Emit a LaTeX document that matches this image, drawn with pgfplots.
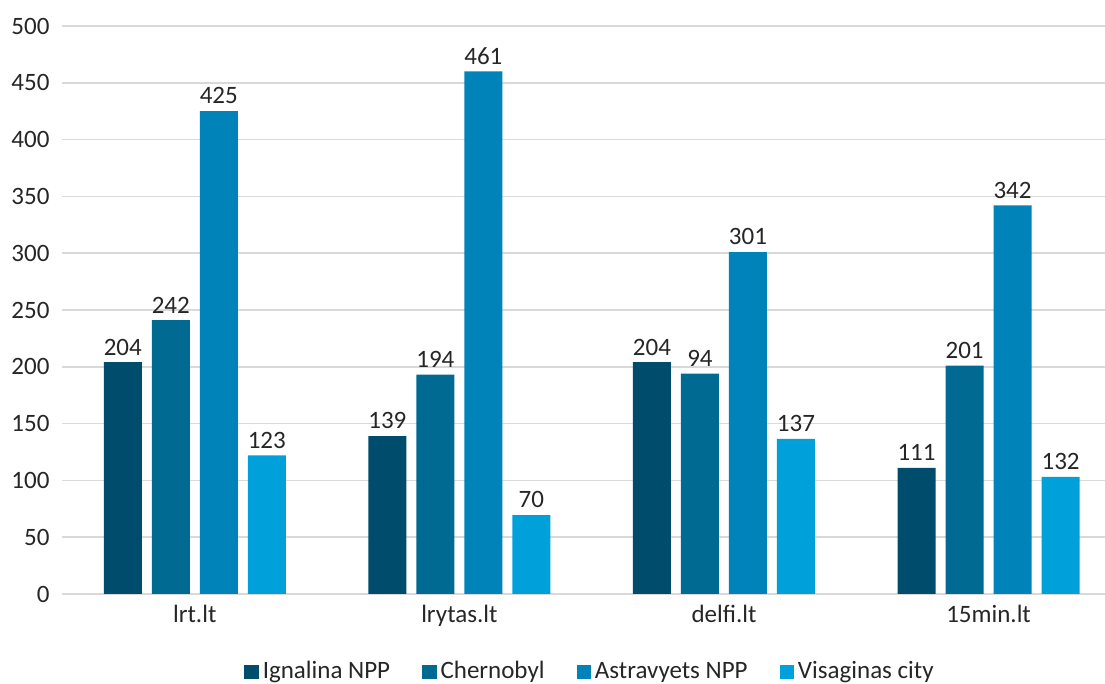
\documentclass[border=0pt]{standalone}
\usepackage{pgfplots}
\pgfplotsset{compat=1.18}
\usepackage{fontspec}
\setmainfont{Carlito}
\definecolor{c1}{HTML}{004C6D}
\definecolor{c2}{HTML}{006A93}
\definecolor{c3}{HTML}{0083B8}
\definecolor{c4}{HTML}{00A0DA}
\definecolor{txt}{HTML}{262626}
\definecolor{gridc}{HTML}{D9D9D9}
\begin{document}
\begin{tikzpicture}
\useasboundingbox (0,0) rectangle (552.5pt,342pt);
\begin{axis}[
  at={(31.25pt,45pt)}, anchor=south west,
  scale only axis, width=521.25pt, height=284pt,
  xmin=-0.5, xmax=3.44, ymin=0, ymax=500,
  ybar=5pt, bar width=19pt,
  xtick={0,1,2,3}, xticklabels={lrt.lt, lrytas.lt, delfi.lt, 15min.lt},
  ytick={0,50,...,500},
  major tick length=0pt,
  axis x line*=bottom, axis y line*=left,
  x axis line style={draw=gridc, line width=0.8pt},
  y axis line style={draw=none},
  ymajorgrids, grid style={gridc, line width=0.8pt},
  tick label style={font=\fontsize{12.5}{14}\selectfont, text=txt},
  /pgf/number format/assume math mode=true,
  yticklabel style={xshift=-3pt},
  xticklabel style={yshift=-2pt},
  point meta=explicit symbolic,
  nodes near coords,
  every node near coord/.append style={font=\fontsize{12.5}{14}\selectfont, text=txt},
  legend columns=4,
  legend style={at={(0.507,-0.137)}, anchor=center, draw=none, fill=none,
    font=\fontsize{12.5}{14}\selectfont, text=txt,
    /tikz/every even column/.append style={column sep=14pt}},
  legend image code/.code={\fill[#1] (0pt,-3.6pt) rectangle (7.2pt,3.6pt);},
]
\addplot[fill=c1, draw=none] coordinates {(0,204)[204] (1,139)[139] (2,204)[204] (3,111)[111]};
\addplot[fill=c2, draw=none] coordinates {(0,241)[242] (1,193)[194] (2,194)[94] (3,201)[201]};
\addplot[fill=c3, draw=none] coordinates {(0,425)[425] (1,460)[461] (2,301)[301] (3,342)[342]};
\addplot[fill=c4, draw=none] coordinates {(0,122)[123] (1,69.5)[70] (2,136.5)[137] (3,103)[132]};
\legend{Ignalina NPP, Chernobyl, Astravyets NPP, Visaginas city}
\end{axis}
\end{tikzpicture}
\end{document}
